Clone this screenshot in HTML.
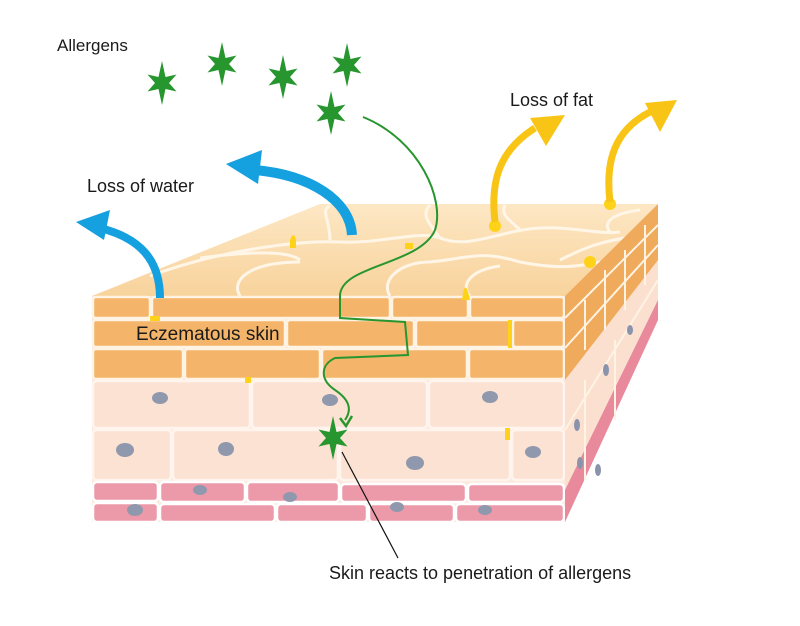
<!DOCTYPE html>
<html><head><meta charset="utf-8"><style>
html,body{margin:0;padding:0;background:#fff;}
svg{display:block;}
text{font-family:"Liberation Sans",sans-serif;fill:#1a1a1a;}
</style></head><body>
<svg width="800" height="626" viewBox="0 0 800 626" xmlns="http://www.w3.org/2000/svg">
<defs>
<g id="st"><polygon fill="#27962f" points="0,-22 3.5,-6 14.5,-8.5 7,0 14.5,8.5 3.5,6 0,22 -3.5,6 -14.5,8.5 -7,0 -14.5,-8.5 -3.5,-6"/></g>
<linearGradient id="top" x1="0" y1="0" x2="0" y2="1"><stop offset="0" stop-color="#fde7c4"/><stop offset="1" stop-color="#f8d39c"/></linearGradient>
</defs>
<!-- top face -->
<polygon points="92,296 565,296 658,204 320,204" fill="url(#top)"/>
<g fill="none" stroke="#fff6e8" stroke-width="3">
<path d="M150,276 C220,250 300,240 340,242 C380,244 420,230 440,238 C470,250 500,230 540,228 C570,226 600,235 620,232"/>
<path d="M200,258 C260,250 290,252 300,260 M240,296 C230,280 250,262 300,262"/>
<path d="M330,240 C330,220 320,210 330,206 M440,238 C430,224 420,215 430,205 M520,230 C510,220 500,215 505,205 M610,232 C600,220 620,212 640,210"/>
<path d="M390,296 C380,280 400,262 430,262 C470,258 480,250 520,262 C560,270 580,266 600,262 M470,296 C460,285 470,270 500,266"/>
<path d="M560,260 C580,250 600,240 640,236"/>
</g>
<!-- front face layers -->
<rect x="92" y="296" width="473" height="226" fill="#fdeadf"/>
<g fill="#f4b56a" stroke="#fff3e3" stroke-width="2.5">
<rect x="93" y="297" width="57" height="21" rx="3"/><rect x="152" y="297" width="238" height="21" rx="3"/><rect x="392" y="297" width="76" height="21" rx="3"/><rect x="470" y="297" width="94" height="21" rx="3"/>
<rect x="93" y="320" width="192" height="27" rx="3"/><rect x="287" y="320" width="127" height="27" rx="3"/><rect x="416" y="320" width="95" height="27" rx="3"/><rect x="513" y="320" width="51" height="27" rx="3"/>
<rect x="93" y="349" width="90" height="30" rx="3"/><rect x="185" y="349" width="135" height="30" rx="3"/><rect x="322" y="349" width="145" height="30" rx="3"/><rect x="469" y="349" width="95" height="30" rx="3"/>
</g>
<g fill="#fbe2d3" stroke="#fff5ee" stroke-width="2.5">
<rect x="93" y="381" width="157" height="47" rx="4"/><rect x="252" y="381" width="175" height="47" rx="4"/><rect x="429" y="381" width="135" height="47" rx="4"/>
<rect x="93" y="430" width="78" height="50" rx="4"/><rect x="173" y="430" width="165" height="50" rx="4"/><rect x="340" y="430" width="170" height="50" rx="4"/><rect x="512" y="430" width="52" height="50" rx="4"/>
</g>
<g fill="#ec9aa9" stroke="#fff" stroke-width="2.5">
<rect x="93" y="482" width="65" height="19" rx="4"/><rect x="160" y="482" width="85" height="20" rx="4"/><rect x="247" y="482" width="92" height="20" rx="4"/><rect x="341" y="484" width="125" height="18" rx="4"/><rect x="468" y="484" width="96" height="18" rx="4"/>
<rect x="93" y="503" width="65" height="19" rx="4"/><rect x="160" y="504" width="115" height="18" rx="4"/><rect x="277" y="504" width="90" height="18" rx="4"/><rect x="369" y="504" width="85" height="18" rx="4"/><rect x="456" y="504" width="108" height="18" rx="4"/>
</g>
<g fill="#9098ad">
<ellipse cx="160" cy="398" rx="8" ry="6"/><ellipse cx="330" cy="400" rx="8" ry="6"/><ellipse cx="490" cy="397" rx="8" ry="6"/>
<ellipse cx="125" cy="450" rx="9" ry="7"/><ellipse cx="226" cy="449" rx="8" ry="7"/><ellipse cx="415" cy="463" rx="9" ry="7"/><ellipse cx="533" cy="452" rx="8" ry="6"/>
<ellipse cx="200" cy="490" rx="7" ry="5"/><ellipse cx="135" cy="510" rx="8" ry="6"/><ellipse cx="290" cy="497" rx="7" ry="5"/><ellipse cx="397" cy="507" rx="7" ry="5"/><ellipse cx="485" cy="510" rx="7" ry="5"/>
</g>
<!-- right face -->
<polygon points="565,296 658,204 658,302 565,522" fill="#fbe0d0"/>
<polygon points="565,296 658,204 658,260 565,380" fill="#f0aa5c"/>
<polygon points="565,490 658,300 658,320 565,522" fill="#e88a9c"/>
<g stroke="#fff3e3" stroke-width="2" fill="none">
<path d="M565,318 L658,225 M565,348 L658,245"/>
<path d="M585,300 L585,350 M605,270 L605,330 M625,250 L625,310 M645,225 L645,285"/>
<path d="M565,430 L658,280 M585,380 L585,480 M615,340 L615,420"/>
</g>
<g fill="#8a93ab"><ellipse cx="577" cy="425" rx="3" ry="6"/><ellipse cx="606" cy="370" rx="3" ry="6"/><ellipse cx="630" cy="330" rx="3" ry="5"/><ellipse cx="580" cy="463" rx="3" ry="6"/><ellipse cx="598" cy="470" rx="3" ry="6"/></g>
<!-- yellow fat drops -->
<g fill="#ffd21a"><circle cx="495" cy="226" r="6"/><circle cx="610" cy="204" r="6"/><circle cx="590" cy="262" r="6"/><path d="M290,240 q4,-10 6,0 v8 h-6z"/><path d="M462,300 q3,-25 8,0z"/><rect x="150" y="316" width="10" height="5"/><rect x="508" y="320" width="4" height="28"/><rect x="245" y="377" width="6" height="6"/><rect x="505" y="428" width="5" height="12"/><rect x="405" y="243" width="8" height="6"/></g>
<!-- arrows -->
<path d="M160,298 C160,260 140,238 100,228" fill="none" stroke="#15a0e0" stroke-width="8"/>
<polygon points="76,222 110,210 104,240" fill="#15a0e0"/>
<path d="M352,235 C350,200 310,175 255,170" fill="none" stroke="#15a0e0" stroke-width="10"/>
<polygon points="226,164 262,150 258,184" fill="#15a0e0"/>
<path d="M495,222 C490,180 500,150 535,128" fill="none" stroke="#f8c516" stroke-width="7"/>
<polygon points="565,115 530,118 546,146" fill="#f8c516"/>
<path d="M610,202 C605,160 615,130 650,112" fill="none" stroke="#f8c516" stroke-width="7"/>
<polygon points="677,100 645,103 660,132" fill="#f8c516"/>
<!-- stars -->
<use href="#st" x="162" y="83"/><use href="#st" x="222" y="64"/><use href="#st" x="283" y="77"/><use href="#st" x="347" y="65"/><use href="#st" x="331" y="113"/><use href="#st" x="333" y="438"/>
<!-- green path -->
<path d="M363,117 C420,140 445,200 435,230 C420,265 340,265 340,296 L340,318 L405,322 L408,355 L335,358 C320,365 320,380 335,390 C350,400 352,410 345,420" fill="none" stroke="#27962f" stroke-width="2"/>
<path d="M340,418 L346,426 L352,416" fill="none" stroke="#27962f" stroke-width="2.5"/>
<line x1="342" y1="452" x2="398" y2="558" stroke="#111" stroke-width="1.2"/>
<!-- texts -->
<text x="57" y="51" font-size="17">Allergens</text>
<text x="510" y="106" font-size="18">Loss of fat</text>
<text x="87" y="192" font-size="18">Loss of water</text>
<text x="136" y="340" font-size="19">Eczematous skin</text>
<text x="329" y="579" font-size="18">Skin reacts to penetration of allergens</text>
</svg>
</body></html>
